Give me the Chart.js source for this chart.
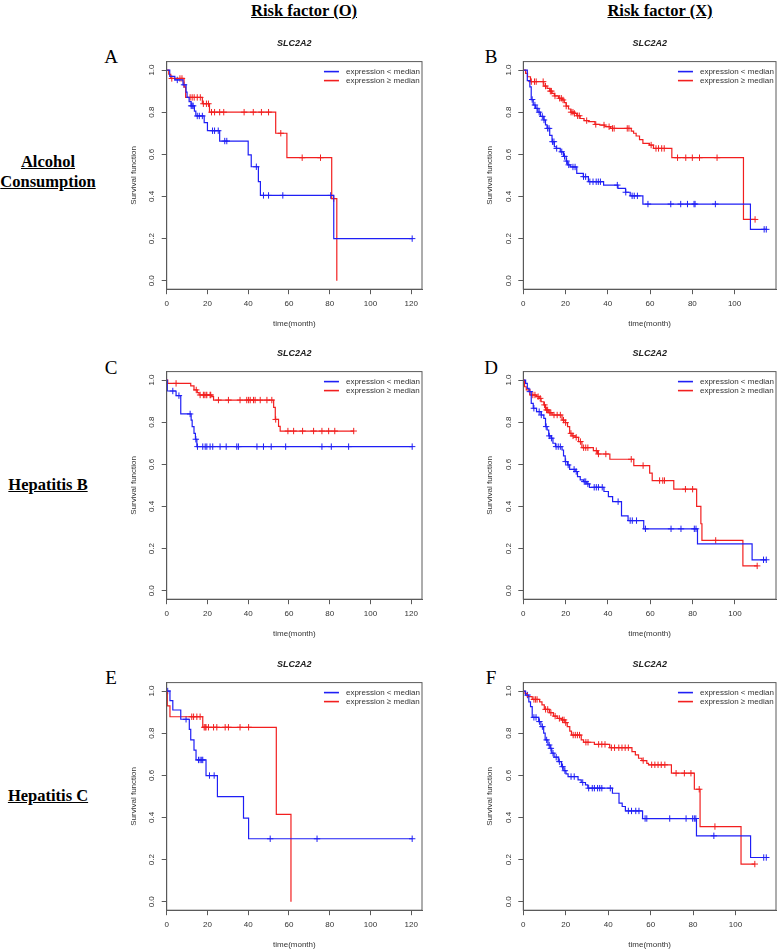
<!DOCTYPE html>
<html><head><meta charset="utf-8">
<script src="https://cdn.jsdelivr.net/npm/chart.js@4.4.1/dist/chart.umd.min.js"></script>
<style>
html,body{margin:0;padding:0;background:#fff;}
body{width:781px;height:949px;position:relative;overflow:hidden;}
.lbl{position:absolute;font-family:'Liberation Serif','Times New Roman',serif;font-weight:bold;font-size:16.5px;text-decoration:underline;color:#000;text-align:center;line-height:20px;transform:translate(-50%,-50%);white-space:nowrap;}
.let{position:absolute;font-family:'Liberation Serif','Times New Roman',serif;font-size:19px;color:#000;transform:translate(-50%,-50%);line-height:20px;}
canvas{position:absolute;}
</style></head><body>
<div class="lbl" style="left:304px;top:11px;">Risk factor (O)</div>
<div class="lbl" style="left:660px;top:11px;">Risk factor (X)</div>
<div class="lbl" style="left:48px;top:172px;">Alcohol<br>Consumption</div>
<div class="lbl" style="left:48px;top:485px;">Hepatitis B</div>
<div class="lbl" style="left:48px;top:796px;">Hepatitis C</div>
<div class="let" style="left:111px;top:57px;">A</div>
<div class="let" style="left:491px;top:57px;">B</div>
<div class="let" style="left:111px;top:368px;">C</div>
<div class="let" style="left:491px;top:368px;">D</div>
<div class="let" style="left:111px;top:678px;">E</div>
<div class="let" style="left:491px;top:678px;">F</div>
<script>
// ---------- data ----------
const GENE = 'SLC2A2';
const LABEL_LOW = 'expression < median';
const LABEL_HIGH = 'expression \u2265 median';
const X_TITLE = 'time(month)';
const Y_TITLE = 'Survival function';
const X_TICKS = [0, 20, 40, 60, 80, 100, 120];
const Y_TICKS = [0, 0.2, 0.4, 0.6, 0.8, 1.0];

// Panel A
const A_lowT = [0, 1.5, 4, 8, 9.5, 10, 11, 12, 13.6, 14.3, 18.4, 20, 26, 40, 41.5, 45, 46, 82, 120.5];
const A_lowS = [1, 0.97, 0.953, 0.93, 0.895, 0.87, 0.85, 0.83, 0.805, 0.782, 0.75, 0.712, 0.663, 0.597, 0.541, 0.47, 0.405, 0.20, 0.20];
const A_lowCens = [5.2, 8.5, 12, 12.5, 13, 15, 16, 17.5, 22.5, 23.5, 25.3, 28.5, 29.5, 44, 47.5, 50, 57, 80.5, 120.5];
const A_highT = [0, 1, 2, 8.5, 9.3, 17.5, 21, 53.5, 59, 81, 83.5];
const A_highS = [1, 0.98, 0.96, 0.92, 0.87, 0.84, 0.80, 0.70, 0.584, 0.39, 0];
const A_highCens = [2.5, 6.5, 7.5, 11.5, 12.5, 13.5, 15, 16.5, 18, 19.5, 20.5, 22, 23.5, 26, 28, 38, 42.5, 46.5, 50, 56, 66.5, 75.5, 82];

// Panel B
const B_lowT = [0, 1.9, 3.1, 3.75, 4.7, 5.8, 6.9, 8.1, 9.7, 10.5, 11.25, 12.5, 13.6, 14.7, 15.6, 17.5, 19, 20.3, 21, 22.2, 25.3, 28.4, 30.8, 38, 44.8, 48.4, 50.6, 56.6, 107.5, 115];
const B_lowS = [1, 0.95, 0.92, 0.86, 0.834, 0.818, 0.80, 0.78, 0.763, 0.74, 0.723, 0.69, 0.66, 0.636, 0.628, 0.612, 0.59, 0.568, 0.55, 0.54, 0.51, 0.494, 0.47, 0.454, 0.438, 0.42, 0.403, 0.364, 0.244, 0.244];
const B_lowCens = [4.2, 5.5, 6.5, 7.5, 9, 9.8, 11.5, 12.2, 13.8, 14.5, 15.8, 18.2, 19.5, 20.5, 21.5, 23.5, 24.5, 28.5, 29.5, 31.5, 33, 34.5, 35.5, 36.5, 44.5, 48.5, 51.5, 52.5, 54, 59, 69.8, 74.5, 77.7, 80.8, 81.3, 90.9, 114, 115];
const B_highT = [0, 1.1, 2, 3.4, 9.7, 11.25, 12.5, 13.6, 14.7, 16.7, 18.3, 19.4, 20.3, 21.4, 22.5, 23.75, 25.3, 26.9, 28.75, 30.8, 33.9, 36.25, 38.6, 41.25, 51.1, 52.2, 53.4, 55, 56.6, 59.7, 61.6, 70.3, 104.2, 109.7];
const B_highS = [1, 0.984, 0.968, 0.945, 0.924, 0.913, 0.90, 0.889, 0.877, 0.866, 0.858, 0.845, 0.829, 0.815, 0.80, 0.794, 0.783, 0.77, 0.76, 0.755, 0.742, 0.739, 0.731, 0.723, 0.71, 0.70, 0.687, 0.67, 0.652, 0.644, 0.628, 0.584, 0.291, 0.291];
const B_highCens = [3.8, 5.3, 6.1, 9.4, 10.5, 12.8, 13.3, 15, 17.2, 18, 18.8, 20.3, 22.6, 23.5, 24.2, 25.7, 26.5, 30, 34.3, 38.2, 40.6, 42.2, 43, 49.2, 50, 60.5, 62.8, 64, 65.5, 66.7, 73, 76.9, 80, 83.4, 91.7, 109.7];

// Panel C
const C_lowT = [0, 0.3, 4.6, 6.9, 12, 12.5, 13.4, 14.1, 14.8, 120.5];
const C_lowS = [1, 0.948, 0.926, 0.839, 0.81, 0.779, 0.747, 0.719, 0.684, 0.684];
const C_lowCens = [3, 6, 11.5, 14.3, 15.1, 17.7, 18.9, 19.7, 21.3, 22.6, 26.2, 29.2, 34.4, 35.2, 44.3, 47.5, 51.3, 58.4, 76.2, 80.8, 89.3, 120.5];
const C_highT = [0, 0.5, 11.8, 13.4, 15, 15.9, 22.1, 23, 52.5, 53.3, 54.9, 55.7, 91.8];
const C_highS = [1, 0.984, 0.972, 0.953, 0.94, 0.929, 0.921, 0.905, 0.87, 0.813, 0.78, 0.758, 0.758];
const C_highCens = [4.6, 14.5, 16.4, 18, 18.4, 19.3, 19.7, 21.3, 21.6, 25.4, 30.3, 36, 39.3, 40.2, 41, 42.6, 43.4, 45.9, 49.2, 51.6, 53.5, 59.5, 62.3, 66.7, 72.1, 76.2, 79.5, 82.5, 91.8];

// Panel D
const D_lowT = [0, 1.1, 1.9, 2.7, 3.75, 4.7, 6.25, 8.4, 9.7, 10.5, 11.25, 12, 13.1, 14, 15.2, 18.3, 19, 19.8, 20.9, 21.9, 24.5, 25.6, 26.9, 28.4, 30, 31.25, 38.1, 40.2, 42.2, 46.4, 49.5, 56.9, 82.3, 108.1, 114.8];
const D_lowS = [1, 0.984, 0.96, 0.945, 0.889, 0.866, 0.85, 0.834, 0.818, 0.779, 0.763, 0.735, 0.724, 0.70, 0.684, 0.668, 0.64, 0.613, 0.597, 0.576, 0.566, 0.542, 0.526, 0.518, 0.507, 0.491, 0.471, 0.447, 0.423, 0.355, 0.333, 0.294, 0.223, 0.147, 0.147];
const D_lowCens = [3.1, 5, 7.5, 8.5, 10.8, 12.3, 13.3, 15.5, 16.5, 17.5, 20, 21.2, 24, 25, 28.8, 29.5, 30.5, 33.5, 34.5, 35.5, 37.3, 44.8, 50.5, 51.5, 53.5, 57.7, 69.8, 74.5, 80.8, 81.6, 113.5, 114.8];
const D_highT = [0, 0.6, 1.4, 3.1, 6.25, 7.5, 8.4, 9.7, 10.5, 12, 13.6, 18.3, 19.8, 20.9, 21.9, 23, 24.5, 26.1, 27.7, 33.1, 35, 40.9, 52.2, 59.7, 60.9, 71.1, 81.9, 83.9, 84.4, 103.75, 110.5];
const D_highS = [1, 0.968, 0.953, 0.929, 0.921, 0.913, 0.897, 0.882, 0.858, 0.845, 0.834, 0.81, 0.798, 0.779, 0.747, 0.735, 0.728, 0.708, 0.679, 0.665, 0.649, 0.624, 0.594, 0.558, 0.523, 0.482, 0.40, 0.318, 0.239, 0.118, 0.118];
const D_highCens = [4.5, 5.5, 7, 8, 10, 11, 11.5, 12.5, 13, 14.5, 16, 17.5, 19, 20, 22.5, 23.5, 25, 27, 28.5, 29.5, 30.5, 34.5, 35.5, 39, 51, 56.6, 64.4, 65.9, 66.7, 76.6, 80, 90.9, 110.5];

// Panel E
const E_lowT = [0, 1.6, 3, 6.9, 11.1, 11.8, 13.4, 14.4, 19.3, 24.9, 37.7, 40.2, 120.5];
const E_lowS = [1, 0.954, 0.91, 0.866, 0.818, 0.768, 0.72, 0.673, 0.599, 0.499, 0.397, 0.299, 0.299];
const E_lowCens = [0.5, 9.5, 15.6, 16.4, 17.2, 17.7, 21, 23.3, 50.8, 73.8, 120.5];
const E_highT = [0, 0.3, 1.6, 17.7, 53.8, 61];
const E_highS = [1, 0.93, 0.878, 0.828, 0.415, 0];
const E_highCens = [12.3, 13.2, 14.8, 16.4, 18.4, 18.9, 19.3, 20.5, 23, 24.6, 28.7, 30.3, 36, 40.2];

// Panel F
const F_lowT = [0, 1.1, 2.6, 3.4, 4.2, 7.25, 8.3, 9.6, 10.3, 11.6, 12.7, 13.4, 14.5, 16.5, 18, 19.1, 20.1, 21.1, 25.8, 27.3, 29.3, 30.4, 42, 45.1, 46.6, 48.1, 56.2, 81.6, 107.1, 114.5];
const F_lowS = [1, 0.981, 0.949, 0.926, 0.875, 0.855, 0.831, 0.80, 0.768, 0.744, 0.728, 0.705, 0.686, 0.665, 0.641, 0.622, 0.607, 0.594, 0.578, 0.566, 0.555, 0.539, 0.515, 0.468, 0.452, 0.431, 0.395, 0.313, 0.21, 0.21];
const F_lowCens = [2, 5, 6, 7.6, 9, 11, 12.2, 13, 14, 15.5, 17, 18.5, 19.6, 22.5, 24, 28, 30.8, 32.5, 33.5, 35, 36, 37, 41, 49.5, 51, 53, 54.5, 57.4, 58.2, 69, 76.7, 79.8, 80.6, 81.3, 89.8, 113.3, 114.5];
const F_highT = [0, 0.8, 1.85, 4.2, 7.7, 8.8, 9.9, 12.3, 14.2, 16, 18, 19.6, 20.7, 21.9, 22.7, 27.3, 28.4, 33.5, 40.7, 51.2, 52.8, 54.3, 55.9, 58.2, 59, 69.8, 80.6, 83.3, 102.6, 109.1];
const F_highS = [1, 0.989, 0.973, 0.96, 0.949, 0.934, 0.913, 0.897, 0.881, 0.87, 0.863, 0.85, 0.831, 0.81, 0.791, 0.768, 0.757, 0.747, 0.731, 0.712, 0.697, 0.681, 0.67, 0.657, 0.65, 0.61, 0.534, 0.357, 0.179, 0.179];
const F_highCens = [5, 5.8, 6.5, 10.5, 11.5, 13, 15, 17, 18.5, 19.2, 20, 23.5, 24.5, 25.5, 26.5, 29.5, 30.5, 35.5, 37, 38.5, 41.5, 43, 45, 46.5, 48, 49.5, 56.5, 60.5, 62, 63.5, 65, 66.7, 72, 75.9, 79, 82.9, 90.3, 109.1];

// ---------- styling / layout ----------
const FONT = "'Liberation Sans', Arial, sans-serif";
const TXT = '#333333';
const FRAME = '#5a5a5a';
const BLUE = '#1f1ff5';
const RED = '#f21f1f';
const COLS = [{left:166.7, w:256.6}, {left:523.3, w:254.4}];
const ROWS = [61.6, 371.6, 682.6];
const BOX_H = 227.6;

const PANELS = [
  {col:0,row:0, low:[A_lowT,A_lowS,A_lowCens], high:[A_highT,A_highS,A_highCens]},
  {col:1,row:0, low:[B_lowT,B_lowS,B_lowCens], high:[B_highT,B_highS,B_highCens]},
  {col:0,row:1, low:[C_lowT,C_lowS,C_lowCens], high:[C_highT,C_highS,C_highCens]},
  {col:1,row:1, low:[D_lowT,D_lowS,D_lowCens], high:[D_highT,D_highS,D_highCens]},
  {col:0,row:2, low:[E_lowT,E_lowS,E_lowCens], high:[E_highT,E_highS,E_highCens]},
  {col:1,row:2, low:[F_lowT,F_lowS,F_lowCens], high:[F_highT,F_highS,F_highCens]}
];

function stepAt(T, S, t) {
  let v = S[0];
  for (let i = 0; i < T.length; i++) { if (T[i] <= t) v = S[i]; else break; }
  return v;
}
function kmDatasets(T, S, C, color, label) {
  return [
    {label: label, legendItem: true, data: T.map((t, i) => ({x: t, y: S[i]})), showLine: true, stepped: true,
     borderColor: color, backgroundColor: color, borderWidth: 1.2, pointRadius: 0, pointHoverRadius: 0, fill: false, tension: 0},
    {label: label + ' (censored)', data: C.map(t => ({x: t, y: stepAt(T, S, t)})), showLine: false,
     pointStyle: 'cross', pointRadius: 3.2, pointBorderWidth: 1, borderColor: color, backgroundColor: color}
  ];
}

const framePlugin = {
  id: 'frameBox',
  afterDraw(chart) {
    const a = chart.chartArea, ctx = chart.ctx;
    ctx.save();
    ctx.strokeStyle = FRAME; ctx.lineWidth = 1;
    ctx.strokeRect(a.left, a.top, a.right - a.left, a.bottom - a.top);
    ctx.restore();
  }
};
// R draws y tick labels parallel to the axis (rotated)
const yLabelPlugin = {
  id: 'yRotLabels',
  afterDraw(chart) {
    const s = chart.scales.y, ctx = chart.ctx, a = chart.chartArea;
    ctx.save();
    ctx.font = '8px ' + FONT; ctx.fillStyle = TXT;
    ctx.textAlign = 'center'; ctx.textBaseline = 'middle';
    s.ticks.forEach(t => {
      const y = s.getPixelForValue(t.value);
      ctx.save();
      ctx.translate(a.left - 15, y);
      ctx.rotate(-Math.PI / 2);
      ctx.fillText(t.label, 0, 0);
      ctx.restore();
    });
    ctx.restore();
  }
};
const legendPlugin = {
  id: 'rLegend',
  afterDraw(chart) {
    const a = chart.chartArea, ctx = chart.ctx;
    const items = chart.data.datasets.filter(d => d.legendItem);
    ctx.save();
    ctx.font = '8px ' + FONT;
    const tw = Math.max(...items.map(d => ctx.measureText(d.label).width));
    const tx = a.right - 2 - tw;
    items.forEach((d, i) => {
      const y = a.top + 10 + i * 9;
      ctx.strokeStyle = d.borderColor; ctx.lineWidth = 1.6;
      ctx.beginPath(); ctx.moveTo(tx - 22, y); ctx.lineTo(tx - 7, y); ctx.stroke();
      ctx.fillStyle = TXT; ctx.textBaseline = 'middle'; ctx.textAlign = 'left';
      ctx.fillText(d.label, tx, y);
    });
    ctx.restore();
  }
};

PANELS.forEach(p => {
  const boxLeft = COLS[p.col].left, boxW = COLS[p.col].w, boxTop = ROWS[p.row];
  const CL = Math.floor(boxLeft) - 47;
  const CT = Math.floor(boxTop) - 32;
  const CW = Math.min(781, Math.ceil(boxLeft + boxW + 3)) - CL;
  const CH = Math.ceil(boxTop + BOX_H + 47) - CT;
  const yw = boxLeft - CL;
  const padRight = CL + CW - (boxLeft + boxW);
  const xh = CT + CH - (boxTop + BOX_H);
  const titleCenter = boxTop - 17.6 - CT;
  const tpTop = titleCenter - 5.4;
  const tpBottom = (boxTop - CT) - tpTop - 10.8;
  const maxT = Math.max(p.low[0][p.low[0].length - 1], p.high[0][p.high[0].length - 1]);
  const xMax = maxT * 1.04;

  const cv = document.createElement('canvas');
  cv.width = CW; cv.height = CH;
  cv.style.left = CL + 'px'; cv.style.top = CT + 'px';
  cv.style.width = CW + 'px'; cv.style.height = CH + 'px';
  document.body.appendChild(cv);

  const datasets = [
    ...kmDatasets(p.low[0], p.low[1], p.low[2], BLUE, LABEL_LOW),
    ...kmDatasets(p.high[0], p.high[1], p.high[2], RED, LABEL_HIGH)
  ];
  const ordered = [datasets[0], datasets[2], datasets[1], datasets[3]];

  new Chart(cv, {
    type: 'scatter',
    data: {datasets: ordered},
    plugins: [framePlugin, yLabelPlugin, legendPlugin],
    options: {
      responsive: false, animation: false, devicePixelRatio: 1,
      layout: {padding: {left: 0, top: 0, right: padRight, bottom: 0}},
      plugins: {
        legend: {display: false}, tooltip: {enabled: false},
        title: {display: true, text: GENE, fullSize: false, color: '#222',
                font: {family: FONT, size: 9, weight: 'bold', style: 'italic', lineHeight: 1.2},
                padding: {top: tpTop, bottom: tpBottom}}
      },
      scales: {
        x: {type: 'linear', position: 'bottom', min: 0, max: xMax,
            afterBuildTicks: s => { s.ticks = X_TICKS.filter(v => v <= xMax).map(v => ({value: v})); },
            ticks: {autoSkip: false, minRotation: 0, maxRotation: 0,
                    padding: 5.2, color: TXT, font: {family: FONT, size: 8},
                    callback: v => String(v)},
            grid: {display: true, drawOnChartArea: false, drawTicks: true, tickLength: 5, color: FRAME},
            border: {display: true, color: FRAME, width: 1},
            title: {display: true, text: X_TITLE, color: TXT, font: {family: FONT, size: 8}, padding: {top: 0, bottom: xh - 34.2 - 4.8}},
            afterFit: s => { s.height = xh; }},
        y: {type: 'linear', position: 'left', min: -0.04, max: 1.04,
            afterBuildTicks: s => { s.ticks = Y_TICKS.map(v => ({value: v})); },
            ticks: {autoSkip: false, padding: 4, color: 'rgba(0,0,0,0)', font: {family: FONT, size: 8},
                    callback: v => Number(v).toFixed(1)},
            grid: {display: true, drawOnChartArea: false, drawTicks: true, tickLength: 5, color: FRAME},
            border: {display: true, color: FRAME, width: 1},
            title: {display: true, text: Y_TITLE, color: TXT, font: {family: FONT, size: 8}, padding: {top: yw - 33.4 - 4.8, bottom: 0}},
            afterFit: s => { s.width = yw; }}
      }
    }
  });
});
</script>
</body></html>
